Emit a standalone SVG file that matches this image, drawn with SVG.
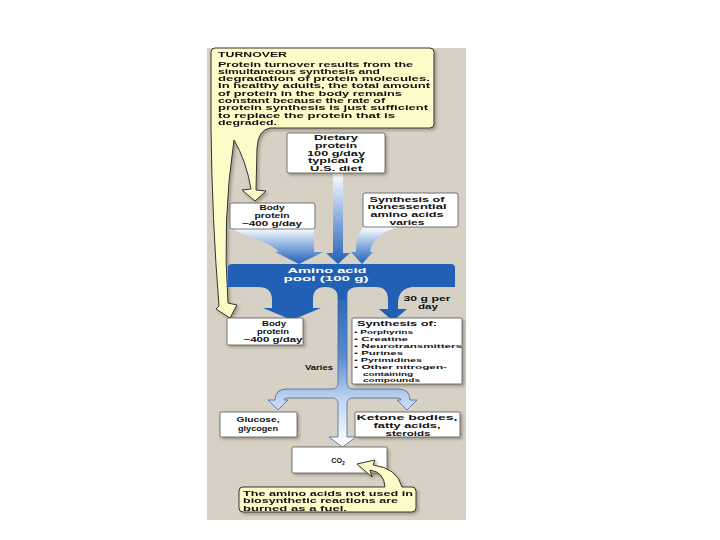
<svg xmlns="http://www.w3.org/2000/svg" width="720" height="540" viewBox="0 0 720 540">
<defs>
<style>
text{font-family:"Liberation Sans",Arial,sans-serif;font-weight:bold;fill:#111;}
.l{font-size:7.2px;}
.t{font-size:6.3px;}
.d{font-size:6.6px;}
.m{font-size:7.6px;}
.c{text-anchor:middle;}
.b{font-size:6px;}
.w{fill:#fff;}
.box{fill:#fff;stroke:#555;stroke-width:0.8;}
.call{fill:#fdfcc9;stroke:#333;stroke-width:1;}
</style>
<linearGradient id="gDown" x1="0" y1="0" x2="0" y2="1">
<stop offset="0" stop-color="#ffffff"/>
<stop offset="0.55" stop-color="#7ea6dc"/>
<stop offset="1" stop-color="#2460b8"/>
</linearGradient>
<linearGradient id="gShaft" gradientUnits="userSpaceOnUse" x1="0" y1="286" x2="0" y2="445">
<stop offset="0" stop-color="#2160b5"/>
<stop offset="0.45" stop-color="#5d8ccf"/>
<stop offset="0.7" stop-color="#bcd2ee"/>
<stop offset="1" stop-color="#ffffff"/>
</linearGradient>
<filter id="sh" x="-10%" y="-10%" width="130%" height="130%">
<feDropShadow dx="2" dy="2" stdDeviation="1.5" flood-color="#7d7363" flood-opacity="0.6"/>
</filter>
</defs>
<rect x="207" y="48" width="259" height="472" fill="#d7d0c4"/>

<g id="connectors">
<path d="M230,228 H314 V252 H323 L299,264 L275,252 H279 C268,240 244,236 230,228 Z" fill="url(#gDown)"/>
<path d="M333,173 H343 V253 H350 L338,264 L326,253 H333 Z" fill="url(#gDown)"/>
<path d="M364,227 H398 C382,232 372,240 370,252 H373 L362,264 L351,252 H356 C356,240 358,232 364,227 Z" fill="url(#gDown)"/>
<path d="M338,283 H347 V383 Q347,389 353,389 H398 Q410,389 410,400 H417 L407,410 L397,400 H401 Q401,398 398,398 H353 Q347,398 347,404 V437 H356 L342.5,447 L329,437 H338 V404 Q338,398 332,398 H287 Q284,398 284,400 H288 L278,410 L268,400 H275 Q275,389 287,389 H332 Q338,389 338,383 Z" fill="url(#gShaft)" stroke="#3d6a9e" stroke-width="0.8"/>
</g>

<g id="turnover" filter="url(#sh)">
<path class="call" d="M215,48 H430 Q434,48 434,52 V124 Q434,128 430,128 H270 Q258,130 257,148 L256,190 L266,191 L255,201 L242,190 L251,189 Q246,160 234,140 Q222,220 228,303 L237,305 L230,318 L216,309 L219,306 Q212,220 211,128 V52 Q211,48 215,48 Z"/>
<text class="l" x="218" y="57" textLength="69" lengthAdjust="spacingAndGlyphs">TURNOVER</text>
<text class="t" x="218" y="66.5" textLength="195" lengthAdjust="spacingAndGlyphs">Protein turnover results from the</text>
<text class="t" x="218" y="73.8" textLength="162" lengthAdjust="spacingAndGlyphs">simultaneous synthesis and</text>
<text class="t" x="218" y="81.1" textLength="212" lengthAdjust="spacingAndGlyphs">degradation of protein molecules.</text>
<text class="t" x="218" y="88.4" textLength="212" lengthAdjust="spacingAndGlyphs">In healthy adults, the total amount</text>
<text class="t" x="218" y="95.7" textLength="184" lengthAdjust="spacingAndGlyphs">of protein in the body remains</text>
<text class="t" x="218" y="103" textLength="167" lengthAdjust="spacingAndGlyphs">constant because the rate of</text>
<text class="t" x="218" y="110.3" textLength="210" lengthAdjust="spacingAndGlyphs">protein synthesis is just sufficient</text>
<text class="t" x="218" y="117.6" textLength="177" lengthAdjust="spacingAndGlyphs">to replace the protein that is</text>
<text class="t" x="218" y="124.9" textLength="59" lengthAdjust="spacingAndGlyphs">degraded.</text>
</g>

<g id="dietary">
<rect class="box" x="287" y="133" width="98" height="40" rx="2" filter="url(#sh)"/>
<text class="d c" x="336" y="140" textLength="44" lengthAdjust="spacingAndGlyphs">Dietary</text>
<text class="d c" x="336" y="147.8" textLength="42" lengthAdjust="spacingAndGlyphs">protein</text>
<text class="d c" x="336" y="155.6" textLength="58" lengthAdjust="spacingAndGlyphs">100 g/day</text>
<text class="d c" x="336" y="163.4" textLength="56" lengthAdjust="spacingAndGlyphs">typical of</text>
<text class="d c" x="336" y="171.2" textLength="52" lengthAdjust="spacingAndGlyphs">U.S. diet</text>
</g>

<g id="body-in">
<rect class="box" x="230" y="203" width="85" height="26" rx="2"/>
<text class="l c" x="272" y="210" textLength="25" lengthAdjust="spacingAndGlyphs">Body</text>
<text class="l c" x="272" y="218" textLength="35" lengthAdjust="spacingAndGlyphs">protein</text>
<text class="l c" x="272" y="226" textLength="60" lengthAdjust="spacingAndGlyphs">~400 g/day</text>
</g>

<g id="nonessential">
<rect class="box" x="363" y="193" width="95" height="34" rx="2"/>
<text class="d c" x="407" y="201.5" textLength="75" lengthAdjust="spacingAndGlyphs">Synthesis of</text>
<text class="d c" x="407" y="209.2" textLength="79" lengthAdjust="spacingAndGlyphs">nonessential</text>
<text class="d c" x="407" y="216.9" textLength="73" lengthAdjust="spacingAndGlyphs">amino acids</text>
<text class="d c" x="407" y="224.6" textLength="35" lengthAdjust="spacingAndGlyphs">varies</text>
</g>

<g id="pool">
<path d="M232,264 H451 Q455,264 455,268 V287 H412 Q398,289 398,303 V309 H407 L393,321 L379,309 H388 V300 Q388,287 376,287 H358 Q346,287 346,299 V300 H338 V299 Q338,287 326,287 H325 Q313,287 313,299 V308 H321 L292,320 L263,308 H272 V300 Q272,287 258,287 H228 V268 Q228,264 232,264 Z" fill="#2160b5"/>
<text class="m c w" x="327" y="273" textLength="79" lengthAdjust="spacingAndGlyphs">Amino acid</text>
<text class="m c w" x="326" y="281" textLength="85" lengthAdjust="spacingAndGlyphs">pool (100 g)</text>
</g>

<g id="label-30g">
<text class="l c" x="427" y="301" textLength="47" lengthAdjust="spacingAndGlyphs">30 g per</text>
<text class="l c" x="428" y="309" textLength="20" lengthAdjust="spacingAndGlyphs">day</text>
</g>

<g id="body-out">
<rect class="box" x="227" y="318" width="76" height="27" rx="1" filter="url(#sh)"/>
<text class="l c" x="274" y="326" textLength="24" lengthAdjust="spacingAndGlyphs">Body</text>
<text class="l c" x="273" y="334" textLength="32" lengthAdjust="spacingAndGlyphs">protein</text>
<text class="l c" x="273" y="342" textLength="59" lengthAdjust="spacingAndGlyphs">~400 g/day</text>
</g>

<g id="synthesis">
<rect class="box" x="352" y="318" width="110" height="66" rx="1" filter="url(#sh)"/>
<text class="l" x="357" y="326" textLength="80" lengthAdjust="spacingAndGlyphs">Synthesis of:</text>
<text class="b" x="354" y="334" textLength="59" lengthAdjust="spacingAndGlyphs">• Porphyrins</text>
<text class="b" x="354" y="341" textLength="54" lengthAdjust="spacingAndGlyphs">• Creatine</text>
<text class="b" x="354" y="348" textLength="108" lengthAdjust="spacingAndGlyphs">• Neurotransmitters</text>
<text class="b" x="354" y="355" textLength="49" lengthAdjust="spacingAndGlyphs">• Purines</text>
<text class="b" x="354" y="362" textLength="68" lengthAdjust="spacingAndGlyphs">• Pyrimidines</text>
<text class="b" x="354" y="369" textLength="93" lengthAdjust="spacingAndGlyphs">• Other nitrogen-</text>
<text class="b" x="363" y="375.5" textLength="50" lengthAdjust="spacingAndGlyphs">containing</text>
<text class="b" x="363" y="382" textLength="57" lengthAdjust="spacingAndGlyphs">compounds</text>
</g>

<g id="varies">
<text class="l" x="305" y="370" textLength="28" lengthAdjust="spacingAndGlyphs">Varies</text>
</g>

<g id="glucose">
<rect class="box" x="220" y="412" width="77" height="25" rx="1" filter="url(#sh)"/>
<text class="l c" x="258" y="422" textLength="43" lengthAdjust="spacingAndGlyphs">Glucose,</text>
<text class="l c" x="258" y="431" textLength="40" lengthAdjust="spacingAndGlyphs">glycogen</text>
</g>

<g id="ketone">
<rect class="box" x="355" y="412" width="105" height="25" rx="1" filter="url(#sh)"/>
<text class="l c" x="407" y="420" textLength="101" lengthAdjust="spacingAndGlyphs">Ketone bodies,</text>
<text class="l c" x="407" y="428" textLength="67" lengthAdjust="spacingAndGlyphs">fatty acids,</text>
<text class="l c" x="408" y="435.5" textLength="45" lengthAdjust="spacingAndGlyphs">steroids</text>
</g>

<g id="co2">
<rect class="box" x="292" y="447" width="95" height="26" rx="1" filter="url(#sh)"/>
<text class="l c" x="338" y="463">CO<tspan font-size="5px" dy="2">2</tspan></text>
</g>

<g id="fuel-note" filter="url(#sh)">
<path class="call" d="M243,487 H385 Q384,472 370,470 L372,477 L357,464 L375,460 L373,465 Q397,468 402,487 H412 Q416,487 416,491 V508 Q416,512 412,512 H243 Q239,512 239,508 V491 Q239,487 243,487 Z"/>
<text class="t" x="243" y="496" textLength="170" lengthAdjust="spacingAndGlyphs">The amino acids not used in</text>
<text class="t" x="243" y="503.3" textLength="155" lengthAdjust="spacingAndGlyphs">biosynthetic reactions are</text>
<text class="t" x="243" y="510.6" textLength="104" lengthAdjust="spacingAndGlyphs">burned as a fuel.</text>
</g>
</svg>
